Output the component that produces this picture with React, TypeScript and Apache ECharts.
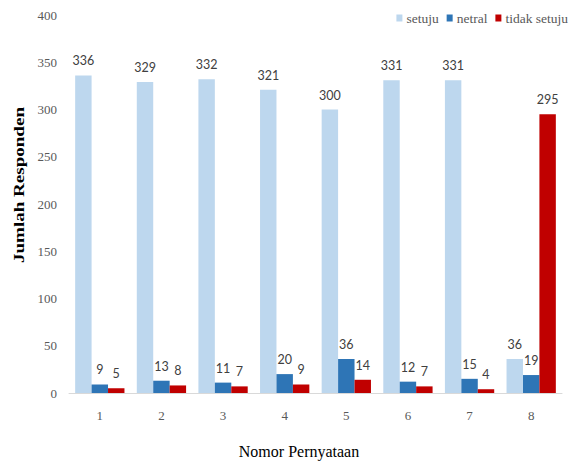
import React, { useEffect, useRef } from "react";
import * as echarts from "echarts";

const categories = ["1", "2", "3", "4", "5", "6", "7", "8"];
const setuju = [336, 329, 332, 321, 300, 331, 331, 36];
const netral = [9, 13, 11, 20, 36, 12, 15, 19];
const tidakSetuju = [5, 8, 7, 9, 14, 7, 4, 295];
const yTicks = { min: 0, max: 400, interval: 50 };

const serif = "'Liberation Serif', 'DejaVu Serif', serif";
const labelFont = "Lato, 'Liberation Sans', sans-serif";

const labelStyle = {
  show: true,
  position: "top" as const,
  distance: 8,
  color: "#404040",
  fontFamily: labelFont,
  fontSize: 12.5,
};

export default function App() {
  const ref = useRef<HTMLDivElement>(null);

  useEffect(() => {
    if (!ref.current) return;
    const chart = echarts.init(ref.current, null, { renderer: "svg" });
    const mk = (name: string, data: number[], color: string) => ({
      name,
      type: "bar",
      data,
      barGap: "0%",
      barCategoryGap: "20%",
      itemStyle: { color },
      label: labelStyle,
    });
    chart.setOption({
      animation: false,
      backgroundColor: "#ffffff",
      grid: { left: 69, right: 17, top: 15, bottom: 71 },
      legend: {
        right: 6,
        top: 6,
        icon: "rect",
        itemWidth: 6,
        itemHeight: 7,
        itemGap: 8,
        textStyle: { fontFamily: serif, fontSize: 13.5, color: "#595959", padding: [0, 0, 0, -1] },
        data: ["setuju", "netral", "tidak setuju"],
      },
      graphic: [
        {
          type: "text",
          x: 19,
          y: 185,
          rotation: Math.PI / 2,
          scaleX: 1.27,
          style: {
            text: "Jumlah Responden",
            fontFamily: serif,
            fontSize: 15,
            fontWeight: "bold",
            fill: "#000000",
            align: "center",
            verticalAlign: "middle",
          },
        },
      ],
      xAxis: {
        type: "category",
        data: categories,
        name: "Nomor Pernyataan",
        nameLocation: "middle",
        nameGap: 50,
        nameTextStyle: {
          fontFamily: serif,
          fontSize: 16,
          color: "#000000",
          padding: [0, 33, 0, 0],
        },
        axisLine: { lineStyle: { color: "#d9d9d9", width: 1 } },
        axisTick: { show: false },
        axisLabel: { fontFamily: serif, fontSize: 13, color: "#595959", margin: 16 },
      },
      yAxis: {
        type: "value",
        min: yTicks.min,
        max: yTicks.max,
        interval: yTicks.interval,
        axisLine: { show: false },
        axisTick: { show: false },
        splitLine: { show: false },
        axisLabel: { fontFamily: serif, fontSize: 13, color: "#595959", margin: 12 },
      },
      series: [
        mk("setuju", setuju, "#bdd7ee"),
        mk("netral", netral, "#2e75b6"),
        mk("tidak setuju", tidakSetuju, "#c00000"),
      ],
    });
    return () => chart.dispose();
  }, []);

  return (
    <div
      ref={ref}
      style={{ position: "absolute", left: 0, top: 0, width: 579, height: 464 }}
    />
  );
}
